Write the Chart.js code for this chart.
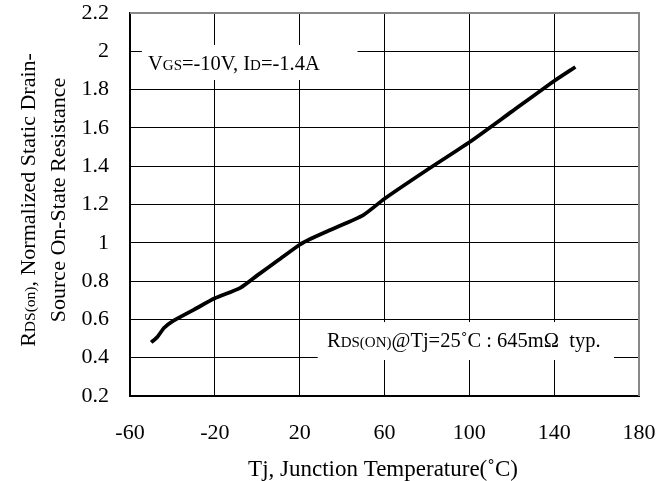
<!DOCTYPE html>
<html>
<head>
<meta charset="utf-8">
<script src="https://cdn.jsdelivr.net/npm/chart.js@4.4.1/dist/chart.umd.min.js"></script>
<style>
  html, body { margin: 0; padding: 0; background: #fff; }
  #wrap { width: 671px; height: 481px; }
</style>
</head>
<body>
<div id="wrap"><canvas id="c" width="671" height="481"></canvas></div>
<script>
// Tj (degC) vs normalized RDS(on)
var temps = [-50, -47, -44, -40, -30, -20, -8, 0, 10, 20, 25, 35, 50, 60, 80, 100, 120, 140, 150]
var rdsNorm = [0.48, 0.51, 0.555, 0.59, 0.65, 0.71, 0.765, 0.83, 0.91, 0.99, 1.02, 1.07, 1.145, 1.23, 1.38, 1.525, 1.685, 1.845, 1.918]

var xTicks = [-60, -20, 20, 60, 100, 140, 180]
var yTicks = [0.2, 0.4, 0.6, 0.8, 1, 1.2, 1.4, 1.6, 1.8, 2, 2.2]

var FONT = '"Liberation Serif", "DejaVu Serif", serif'

// draws runs of [text, size] left to right from x, baseline y
function runs(ctx, parts, x, y) {
  parts.forEach(function (p) {
    ctx.font = p[1] + 'px ' + FONT
    ctx.fillText(p[0], x, y)
    x += ctx.measureText(p[0]).width
  })
}
function runsWidth(ctx, parts) {
  var w = 0
  parts.forEach(function (p) {
    ctx.font = p[1] + 'px ' + FONT
    w += ctx.measureText(p[0]).width
  })
  return w
}

var notes = {
  id: 'notes',
  afterDatasetsDraw: function (chart) {
    var ctx = chart.ctx
    var x = chart.scales.x
    var y = chart.scales.y
    var area = chart.chartArea
    ctx.save()

    // top / right frame in gray
    ctx.strokeStyle = '#888'
    ctx.lineWidth = 2
    ctx.beginPath()
    ctx.moveTo(area.left, area.top)
    ctx.lineTo(area.right, area.top)
    ctx.lineTo(area.right, area.bottom)
    ctx.stroke()

    ctx.textBaseline = 'alphabetic'

    // condition box
    var bx1 = x.getPixelForValue(-54.4), bx2 = x.getPixelForValue(47.3)
    var by1 = y.getPixelForValue(2.033), by2 = y.getPixelForValue(1.85)
    ctx.fillStyle = '#fff'
    ctx.fillRect(bx1, by1, bx2 - bx1, by2 - by1)
    ctx.fillStyle = '#000'
    runs(ctx, [['V', 20.5], ['GS', 15], ['=-10V, I', 20.5], ['D', 15], ['=-1.4A', 20.5]], 148, 70)

    // typical value box
    var cx1 = x.getPixelForValue(28.5), cx2 = x.getPixelForValue(168.2)
    var cy1 = y.getPixelForValue(0.586), cy2 = y.getPixelForValue(0.388)
    ctx.fillStyle = '#fff'
    ctx.fillRect(cx1, cy1, cx2 - cx1, cy2 - cy1)
    ctx.fillStyle = '#000'
    runs(ctx, [['R', 20.5], ['DS(ON)', 15], ['@Tj=25˚C : 645m\u03A9  typ.', 20.5]], 327, 347)

    // y axis title, two lines rotated
    var l1 = [['R', 22], ['DS(on)', 15.5], [', Normalized Static Drain-', 22]]
    var l2 = [['Source On-State Resistance', 22]]
    ctx.translate(0, 200)
    ctx.rotate(-Math.PI / 2)
    runs(ctx, l1, -runsWidth(ctx, l1) / 2, 35)
    runs(ctx, l2, -runsWidth(ctx, l2) / 2, 65)
    ctx.restore()

    // x axis title
    ctx.save()
    ctx.fillStyle = '#000'
    ctx.textBaseline = 'alphabetic'
    var t = [['Tj, Junction Temperature(˚C)', 23]]
    runs(ctx, t, 383 - runsWidth(ctx, t) / 2, 476)
    ctx.restore()
  }
}

new Chart(document.getElementById('c'), {
  type: 'line',
  data: {
    datasets: [{
      data: temps.map(function (t, i) { return { x: t, y: rdsNorm[i] } }),
      borderColor: '#000',
      borderWidth: 3.8,
      pointRadius: 0,
      tension: 0.2,
      fill: false
    }]
  },
  options: {
    responsive: false,
    animation: false,
    devicePixelRatio: 1,
    layout: { padding: { top: 13, right: 32, left: 0, bottom: 0 } },
    plugins: { legend: { display: false }, tooltip: { enabled: false } },
    scales: {
      x: {
        type: 'linear',
        min: -60,
        max: 180,
        afterBuildTicks: function (s) { s.ticks = xTicks.map(function (v) { return { value: v } }) },
        afterFit: function (s) { s.height = 85; s.paddingLeft = 0; s.paddingRight = 0 },
        grid: { color: '#000', lineWidth: 1, drawTicks: false },
        border: { color: '#000', width: 2 },
        ticks: { color: '#000', padding: 24, font: { family: FONT, size: 22 }, callback: function (v) { return String(v) } }
      },
      y: {
        type: 'linear',
        min: 0.2,
        max: 2.2,
        afterBuildTicks: function (s) { s.ticks = yTicks.map(function (v) { return { value: v } }) },
        afterFit: function (s) { s.width = 130; s.paddingTop = 0; s.paddingBottom = 0 },
        grid: { color: '#000', lineWidth: 1, drawTicks: false },
        border: { color: '#000', width: 2 },
        ticks: { color: '#000', padding: 21, font: { family: FONT, size: 22 }, callback: function (v) { return String(v) } }
      }
    }
  },
  plugins: [notes]
})
</script>
</body>
</html>
